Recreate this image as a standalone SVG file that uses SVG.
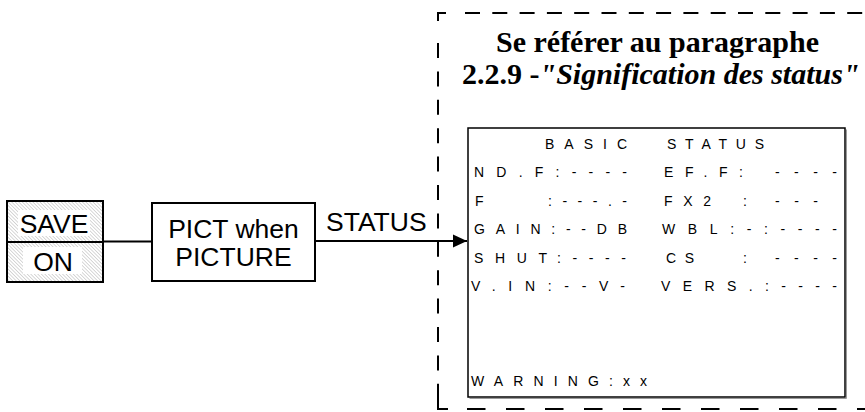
<svg xmlns="http://www.w3.org/2000/svg" width="865" height="412" viewBox="0 0 865 412">
<defs>
<pattern id="hatch" patternUnits="userSpaceOnUse" width="2.5" height="2.5" patternTransform="rotate(-45)">
<rect width="2.5" height="2.5" fill="#ffffff"/>
<line x1="0" y1="0" x2="0" y2="2.5" stroke="#a8a8a8" stroke-width="0.9"/>
</pattern>
<marker id="arrow" markerWidth="14" markerHeight="14" refX="14" refY="7" orient="auto" markerUnits="userSpaceOnUse">
<path d="M0,0.5 L14,7 L0,13.5 Z" fill="#000"/>
</marker>
<style>
.box{fill:#fff;stroke:#000;stroke-width:2}
.lbl{font-family:"Liberation Sans",Arial,sans-serif;font-size:26.5px;fill:#000}
.st{font-family:"Liberation Sans",Arial,sans-serif;font-size:14px;fill:#000}
.ttl{font-family:"Liberation Serif","Times New Roman",serif;font-size:30px;font-weight:bold;fill:#000}
.dash{fill:none;stroke:#000;stroke-width:2}
.wire{fill:none;stroke:#000;stroke-width:2}
</style>
</defs>
<rect width="865" height="412" fill="#fff"/>

<g id="save-on">
<rect x="7" y="201" width="96" height="41" fill="url(#hatch)" stroke="#000" stroke-width="2"/>
<rect x="7" y="242" width="96" height="40" fill="url(#hatch)" stroke="#000" stroke-width="2"/>
<rect x="18" y="210" width="72" height="26" fill="#fff"/>
<rect x="23" y="247" width="59" height="27" fill="#fff"/>
<text class="lbl" x="54" y="233" text-anchor="middle">SAVE</text>
<text class="lbl" x="53" y="271" text-anchor="middle">ON</text>
</g>

<g id="pict">
<rect class="box" x="152" y="203" width="163" height="78"/>
<text class="lbl" x="233.5" y="238" text-anchor="middle">PICT when</text>
<text class="lbl" x="233.5" y="266" text-anchor="middle">PICTURE</text>
</g>

<g id="connectors">
<line class="wire" x1="103" y1="241.5" x2="152" y2="241.5"/>
<line class="wire" x1="315" y1="241" x2="467" y2="241" marker-end="url(#arrow)"/>
<text class="lbl" x="326" y="231">STATUS</text>
</g>

<g id="reference-frame">
<path class="dash" d="M438,21 V13 H446"/>
<line class="dash" x1="465" y1="13" x2="865" y2="13" stroke-dasharray="15 12.3"/>
<line class="dash" x1="438" y1="43" x2="438" y2="398" stroke-dasharray="15 13.4"/>
<path class="dash" d="M438,398 V409 H448"/>
<line class="dash" x1="467" y1="409" x2="865" y2="409" stroke-dasharray="18.5 20.5"/>
<text class="ttl" x="496" y="52">Se référer au paragraphe</text>
<text class="ttl" x="462" y="84">2.2.9 -<tspan font-style="italic">"Signification des status"</tspan></text>
</g>

<g id="status-screen">
<path d="M846.5,129.5 V398.5 H469.5" fill="none" stroke="#9a9a9a" stroke-width="1"/>
<rect x="468" y="128" width="377" height="269" fill="#fff" stroke="#000" stroke-width="1.5"/>
<text class="st" x="545" y="148.5" textLength="82" lengthAdjust="spacing">BASIC</text>
<text class="st" x="667" y="148.5" textLength="97" lengthAdjust="spacing">STATUS</text>

<text class="st" x="474" y="177" textLength="153" lengthAdjust="spacing">ND.F:----</text>
<text class="st" x="664" y="177" textLength="79" lengthAdjust="spacing">EF.F:</text>
<text class="st" x="775" y="177" textLength="62" lengthAdjust="spacing">----</text>

<text class="st" x="475" y="205.5">F</text>
<text class="st" x="548" y="205.5" textLength="79" lengthAdjust="spacing">:---.-</text>
<text class="st" x="664" y="205.5" textLength="47" lengthAdjust="spacing">FX2</text>
<text class="st" x="743" y="205.5">:</text>
<text class="st" x="775" y="205.5" textLength="43" lengthAdjust="spacing">---</text>

<text class="st" x="474" y="234" textLength="153" lengthAdjust="spacing">GAIN:--DB</text>
<text class="st" x="662" y="234" textLength="175" lengthAdjust="spacing">WBL:-:----</text>

<text class="st" x="474" y="262.5" textLength="152" lengthAdjust="spacing">SHUT:----</text>
<text class="st" x="666" y="262.5" textLength="28" lengthAdjust="spacing">CS</text>
<text class="st" x="743" y="262.5">:</text>
<text class="st" x="775" y="262.5" textLength="62" lengthAdjust="spacing">----</text>

<text class="st" x="471" y="291" textLength="154" lengthAdjust="spacing">V.IN:--V-</text>
<text class="st" x="661" y="291" textLength="176" lengthAdjust="spacing">VERS.:----</text>

<text class="st" x="471" y="386" textLength="176" lengthAdjust="spacing">WARNING:xx</text>
</g>
</svg>
